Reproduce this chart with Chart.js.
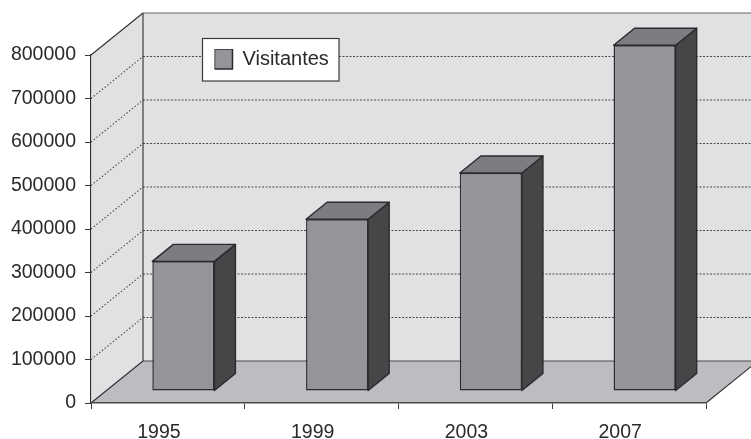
<!DOCTYPE html>
<html>
<head>
<meta charset="utf-8">
<style>
  html, body { margin: 0; padding: 0; background: #fff; }
  canvas { display: block; }
</style>
<script src="https://cdn.jsdelivr.net/npm/chart.js@4"></script>
</head>
<body>
<canvas id="chart" width="751" height="439"></canvas>
<script>
// Visitors per year
const years = ['1995', '1999', '2003', '2007'];
const visitantes = [298000, 395000, 501000, 795000];
const seriesName = 'Visitantes';
const axisMax = 800000;
const axisStep = 100000;

// Pseudo-3D look: depth of the room, and of the boxes standing in it
const ROOM = { dx: 52, dy: -42 };
const BAR_INSET = { dx: 15.5, dy: -12 };
const BAR_DEPTH = { dx: 21, dy: -17 };

const COLORS = {
  wall: '#e0e1e3',
  floor: '#bcbdc0',
  edge: '#2f2f31',
  dots: '#4a4a4c',
  face: '#939598',
  top: '#7c7d80',
  side: '#454648',
  barEdge: '#2b2b2d',
  text: '#2a2a2c'
};

function poly(ctx, pts, fill, stroke, lw) {
  ctx.beginPath();
  pts.forEach((p, i) => (i ? ctx.lineTo(p[0], p[1]) : ctx.moveTo(p[0], p[1])));
  ctx.closePath();
  if (fill) { ctx.fillStyle = fill; ctx.fill(); }
  if (stroke) { ctx.strokeStyle = stroke; ctx.lineWidth = lw; ctx.stroke(); }
}

function line(ctx, x1, y1, x2, y2, color, lw, dash) {
  ctx.beginPath();
  ctx.setLineDash(dash || []);
  ctx.moveTo(x1, y1);
  ctx.lineTo(x2, y2);
  ctx.strokeStyle = color;
  ctx.lineWidth = lw;
  ctx.stroke();
  ctx.setLineDash([]);
}

// Walls, floor and dotted gridlines behind the boxes, plus the legend frame
const roomPlugin = {
  id: 'room',
  beforeDraw(chart) {
    const { ctx, chartArea: a, scales: { y } } = chart;
    const d = ROOM;
    ctx.save();
    poly(ctx, [[a.left + d.dx, a.top + d.dy], [chart.width, a.top + d.dy],
               [chart.width, a.bottom + d.dy], [a.left + d.dx, a.bottom + d.dy]], COLORS.wall);
    poly(ctx, [[a.left, a.top], [a.left + d.dx, a.top + d.dy],
               [a.left + d.dx, a.bottom + d.dy], [a.left, a.bottom]], COLORS.wall);
    poly(ctx, [[a.left, a.bottom], [a.right, a.bottom],
               [a.right + d.dx, a.bottom + d.dy], [a.left + d.dx, a.bottom + d.dy]], COLORS.floor);

    y.ticks.forEach(t => {
      if (t.value === 0 || t.value === axisMax) return;
      const py = y.getPixelForValue(t.value);
      line(ctx, a.left, py, a.left + d.dx, py + d.dy, COLORS.dots, 1.1, [1.5, 2]);
      line(ctx, a.left + d.dx, py + d.dy, chart.width, py + d.dy, COLORS.dots, 1.2, [2, 1.5]);
    });

    line(ctx, a.left + d.dx, a.top + d.dy, chart.width, a.top + d.dy, '#68686a', 1.2);
    line(ctx, a.left, a.top, a.left + d.dx, a.top + d.dy, COLORS.edge, 1.1);
    line(ctx, a.left + d.dx, a.top + d.dy, a.left + d.dx, a.bottom + d.dy, COLORS.edge, 1.1);
    line(ctx, a.left + d.dx, a.bottom + d.dy, chart.width, a.bottom + d.dy, '#4a4a4c', 1.2);
    line(ctx, a.left, a.bottom, a.left + d.dx, a.bottom + d.dy, COLORS.edge, 1.1);
    line(ctx, a.right, a.bottom, a.right + d.dx, a.bottom + d.dy, COLORS.edge, 1.1);

    // Legend frame, with the library's own legend moved inside it
    const lg = { x: 202.5, y: 38.5, w: 136.5, h: 42.5 };
    ctx.fillStyle = '#ffffff';
    ctx.fillRect(lg.x, lg.y, lg.w, lg.h);
    ctx.strokeStyle = '#3a3a3c';
    ctx.lineWidth = 1.2;
    ctx.strokeRect(lg.x, lg.y, lg.w, lg.h);
    ctx.restore();

    const pad = chart.legend.options.labels.padding;
    chart.legend.left = 214.5 - pad;
    chart.legend.right = 339;
    chart.legend.top = 49 - pad;
    chart.legend.bottom = 81;
  },
  // Top and side faces are extruded from the bar elements' own geometry
  beforeDatasetsDraw(chart) {
    const { ctx } = chart;
    const d = BAR_DEPTH;
    ctx.save();
    ctx.translate(BAR_INSET.dx, BAR_INSET.dy);
    chart.getDatasetMeta(0).data.forEach(bar => {
      const l = bar.x - bar.width / 2;
      const r = bar.x + bar.width / 2;
      const t = bar.y;
      const b = bar.base;
      ctx.lineJoin = 'round';
      poly(ctx, [[r, t], [r + d.dx, t + d.dy], [r + d.dx, b + d.dy], [r, b]], COLORS.side, COLORS.barEdge, 1.4);
      poly(ctx, [[l, t], [l + d.dx, t + d.dy], [r + d.dx, t + d.dy], [r, t]], COLORS.top, COLORS.barEdge, 1.4);
    });
  },
  afterDatasetsDraw(chart) {
    chart.ctx.restore();
  }
};

const labelFont = { family: '"Liberation Sans", Arial, sans-serif', size: 19.5 };

new Chart(document.getElementById('chart'), {
  type: 'bar',
  data: {
    labels: years,
    datasets: [{
      label: seriesName,
      data: visitantes,
      backgroundColor: COLORS.face,
      borderColor: COLORS.barEdge,
      borderWidth: 1.5,
      borderSkipped: false,
      barPercentage: 0.505,
      categoryPercentage: 0.8,
      clip: false
    }]
  },
  options: {
    responsive: false,
    animation: false,
    layout: { padding: { top: 55, right: 45, left: 0, bottom: 0 } },
    plugins: {
      title: { display: false },
      tooltip: { enabled: false },
      legend: {
        position: 'chartArea',
        align: 'start',
        labels: {
          boxWidth: 18,
          boxHeight: 20,
          padding: 0,
          color: COLORS.text,
          font: { family: labelFont.family, size: 20 }
        }
      }
    },
    scales: {
      x: {
        grid: { drawOnChartArea: false, tickLength: 6, tickColor: '#3a3a3c', tickWidth: 1 },
        border: { color: '#4a4a4c', width: 1.4 },
        ticks: { color: COLORS.text, font: labelFont, labelOffset: -9, padding: 12, maxRotation: 0 },
        afterFit(s) { s.height = 36; }
      },
      y: {
        min: 0,
        max: axisMax,
        grid: { drawOnChartArea: false, tickLength: 6, tickColor: '#3a3a3c', tickWidth: 1 },
        border: { color: '#2f2f31', width: 1.1 },
        ticks: {
          stepSize: axisStep,
          color: COLORS.text,
          font: labelFont,
          padding: 9,
          callback: v => String(v)
        },
        afterFit(s) { s.width = 91; }
      }
    }
  },
  plugins: [roomPlugin]
});
</script>
</body>
</html>
